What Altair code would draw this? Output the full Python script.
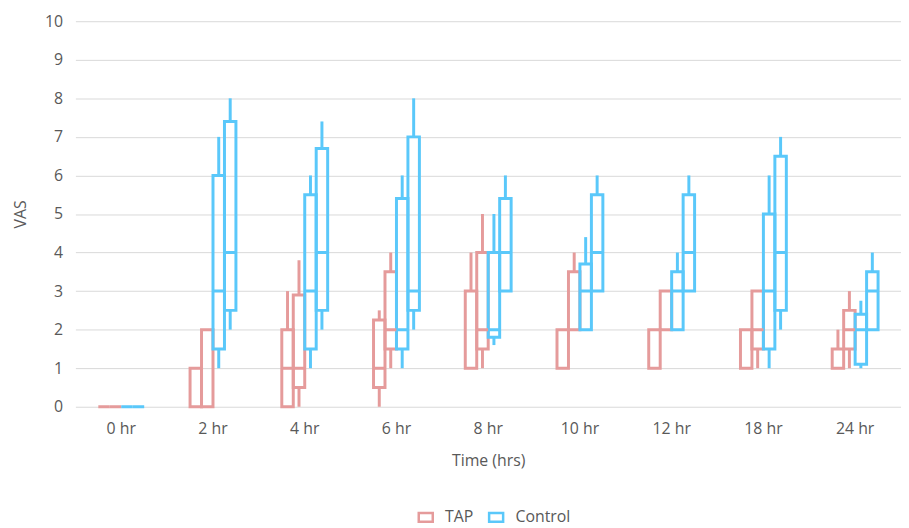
import altair as alt
import pandas as pd

# Time points (category axis)
times = ["0 hr", "2 hr", "4 hr", "6 hr", "8 hr", "10 hr", "12 hr", "18 hr", "24 hr"]

# Each entry: (low whisker, Q1, median, Q3, high whisker); None = no median line drawn
TAP_1 = [(0, 0, None, 0, 0), (0, 0, None, 1, 1), (0, 0, 1, 2, 3), (0, 0.5, 1, 2.25, 2.5),
         (1, 1, None, 3, 4), (1, 1, None, 2, 2), (1, 1, None, 2, 2), (1, 1, None, 2, 2),
         (1, 1, None, 1.5, 2)]
TAP_2 = [(0, 0, None, 0, 0), (0, 0, None, 2, 2), (0, 0.5, 1, 2.9, 3.8), (1, 1.5, 2, 3.5, 4),
         (1, 1.5, 2, 4, 5), (2, 2, None, 3.5, 4), (2, 2, None, 3, 3), (1, 1.5, 2, 3, 3),
         (1, 1.5, 2, 2.5, 3)]
CTRL_1 = [(0, 0, None, 0, 0), (1, 1.5, 3, 6, 7), (1, 1.5, 3, 5.5, 6), (1, 1.5, 2, 5.4, 6),
          (1.6, 1.8, 2, 4, 5), (2, 2, 3, 3.7, 4.4), (2, 2, 3, 3.5, 4), (1, 1.5, 3, 5, 6),
          (1, 1.1, 2, 2.4, 2.75)]
CTRL_2 = [(0, 0, None, 0, 0), (2, 2.5, 4, 7.4, 8), (2, 2.5, 4, 6.7, 7.4), (2, 2.5, 3, 7, 8),
          (3, 3, 4, 5.4, 6), (3, 3, 4, 5.5, 6), (3, 3, 4, 5.5, 6), (2, 2.5, 4, 6.5, 7),
          (2, 2, 3, 3.5, 4)]
y_ticks = list(range(0, 11))

series = [("T1", "TAP", TAP_1), ("T2", "TAP", TAP_2), ("C1", "Control", CTRL_1), ("C2", "Control", CTRL_2)]
# outer slots left empty so the four boxes sit in the middle of each time band
sub_order = ["pad_a", "pad_b", "T1", "T2", "C1", "C2", "pad_c", "pad_d"]
groups = ["TAP", "Control"]
colors = ["#E59B9B", "#5AC8FA"]

rows = []
for sub, grp, vals in series:
    for t, (lo, q1, md, q3, hi) in zip(times, vals):
        rows.append(dict(time=t, sub=sub, group=grp, low=lo, q1=q1, median=md, q3=q3, high=hi))
df = pd.DataFrame(rows)

FONT = "Open Sans"
GREY = "#595959"
FS = 16

legend_path = "M -1 -0.62 L 1 -0.62 L 1 0.62 L -1 0.62 Z"

base = alt.Chart(df).encode(
    x=alt.X("time:N", scale=alt.Scale(domain=times, paddingInner=0, paddingOuter=0),
            axis=alt.Axis(title="Time (hrs)", labelAngle=0, ticks=False, domain=False,
                          labelFontSize=FS, labelColor=GREY, labelFont=FONT, labelPadding=14,
                          titleFontSize=FS, titleColor=GREY, titleFont=FONT,
                          titleFontWeight="normal", titlePadding=16)),
    xOffset=alt.XOffset("sub:N", scale=alt.Scale(domain=sub_order, paddingInner=0, paddingOuter=0)),
    stroke=alt.Stroke("group:N", scale=alt.Scale(domain=groups, range=colors),
                      legend=alt.Legend(title=None, orient="none", legendX=345, legendY=492,
                                        direction="horizontal", symbolType=legend_path,
                                        symbolSize=200, symbolStrokeWidth=2.5,
                                        symbolFillColor="white",
                                        labelFontSize=FS, labelColor=GREY, labelFont=FONT,
                                        columnPadding=10, labelOffset=11)),
)

yaxis = alt.Axis(title="VAS", values=y_ticks, tickCount=11, labelOverlap=False,
                 ticks=False, domain=False,
                 gridColor="#D9D9D9", gridWidth=1, labelFontSize=FS, labelColor=GREY,
                 labelFont=FONT, labelPadding=13, titleFontSize=FS, titleColor=GREY,
                 titleFont=FONT, titleFontWeight="normal", titlePadding=16)
yscale = alt.Scale(domain=[0, 10], nice=False)

boxes = base.mark_bar(filled=False, strokeWidth=3).encode(
    y=alt.Y("q1:Q", scale=yscale, axis=yaxis),
    y2="q3:Q",
)

whisk_lo = base.transform_filter("datum.low < datum.q1").mark_rule(strokeWidth=3).encode(
    y=alt.Y("low:Q", scale=yscale, axis=yaxis), y2="q1:Q")
whisk_hi = base.transform_filter("datum.high > datum.q3").mark_rule(strokeWidth=3).encode(
    y=alt.Y("q3:Q", scale=yscale, axis=yaxis), y2="high:Q")

med = base.transform_filter("isValid(datum.median)").transform_calculate(
    m2="datum.median").mark_bar(filled=False, strokeWidth=3).encode(
    y=alt.Y("median:Q", scale=yscale, axis=yaxis), y2="m2:Q")

chart = alt.layer(whisk_lo, whisk_hi, boxes, med).properties(
    width=833, height=389,
    autosize=alt.AutoSizeParams(type="none"),
    padding={"left": 68, "top": 11, "right": 0, "bottom": 120},
).configure_view(stroke=None)

chart.save("out.html", embed_options={"renderer": "svg", "actions": False})
